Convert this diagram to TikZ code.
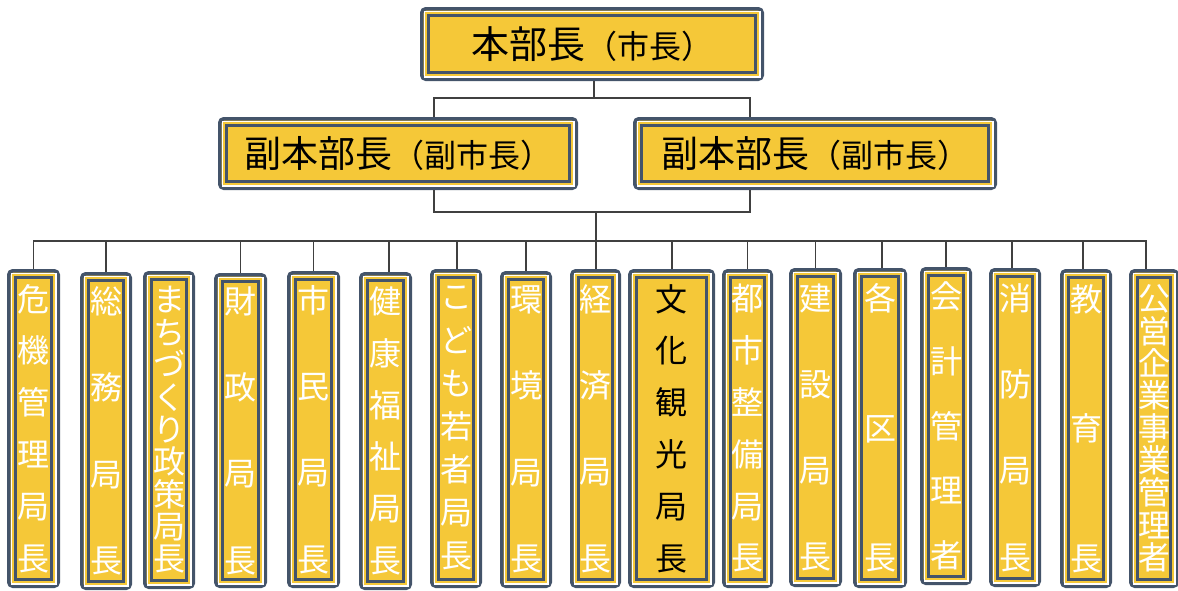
\documentclass[tikz,border=0pt]{standalone}
\usepackage{fontspec}
\newfontfamily\jp{Noto Sans CJK JP}
\definecolor{slate}{HTML}{44546A}
\definecolor{byel}{HTML}{F5C838}
\definecolor{connc}{HTML}{404040}
\tikzset{
 obox/.style={draw=slate, line width=3.5pt, fill=byel, rounded corners=4pt, inner sep=0pt, align=center},
 wline/.style={draw=white, line width=1.2pt},
 iline/.style={draw=slate, line width=3.3pt},
 conn/.style={draw=connc, line width=1.2pt},
 vt/.style={font=\jp\fontsize{32}{#1}\selectfont, text=white},
 ht/.style={font=\jp\fontsize{#1}{40}\selectfont, text=black},
}
\newcommand\smtext[1]{{\fontsize{32}{34}\selectfont #1}}
\begin{document}
\begin{tikzpicture}[x=1pt,y=-1pt]
\useasboundingbox (0,0) rectangle (1178,590);
% top levels
\node[obox, ht=38, minimum width=340.5pt, minimum height=70.5pt] (top) at (592,44) {本部長\smtext{（市長）}};
\node[obox, ht=37, minimum width=356.5pt, minimum height=69.5pt] (v1) at (398,153.5) {副本部長\smtext{（副市長）}};
\node[obox, ht=37, minimum width=360.5pt, minimum height=69.5pt] (v2) at (815,153.5) {副本部長\smtext{（副市長）}};
% bottom level
\node[obox, vt=51.8, minimum width=49.5pt, minimum height=315.5pt] (b1) at (33.5,428.5) {危\\機\\管\\理\\局\\長};
\node[obox, vt=86.33, minimum width=48.5pt, minimum height=314.5pt] (b2) at (106,431) {総\\務\\局\\長};
\node[obox, vt=32.375, minimum width=48.5pt, minimum height=314.5pt] (b3) at (169,430) {ま\\ち\\づ\\く\\り\\政\\策\\局\\長};
\node[obox, vt=86.33, minimum width=49.5pt, minimum height=311.5pt] (b4) at (240.5,430.5) {財\\政\\局\\長};
\node[obox, vt=86.33, minimum width=49.5pt, minimum height=313.5pt] (b5) at (313.5,429.5) {市\\民\\局\\長};
\node[obox, vt=51.8, minimum width=49.5pt, minimum height=314.5pt] (b6) at (385.5,431) {健\\康\\福\\祉\\局\\長};
\node[obox, vt=43.17, minimum width=48.5pt, minimum height=315.5pt] (b7) at (456,428.5) {こ\\ど\\も\\若\\者\\局\\長};
\node[obox, vt=86.33, minimum width=48.5pt, minimum height=313.5pt] (b8) at (526,429.5) {環\\境\\局\\長};
\node[obox, vt=86.33, minimum width=47.5pt, minimum height=315.5pt] (b9) at (595.5,428.5) {経\\済\\局\\長};
\node[obox, vt=51.8, minimum width=83.5pt, minimum height=315.5pt, text=black] (b10) at (671.5,428.5) {文\\化\\観\\光\\局\\長};
\node[obox, vt=51.8, minimum width=47.5pt, minimum height=315.5pt] (b11) at (747.5,428.5) {都\\市\\整\\備\\局\\長};
\node[obox, vt=86.33, minimum width=49.5pt, minimum height=315.5pt] (b12) at (815.5,427.5) {建\\設\\局\\長};
\node[obox, vt=129.5, minimum width=50.5pt, minimum height=316.5pt] (b13) at (880,428) {各\\区\\長};
\node[obox, vt=64.75, minimum width=48.5pt, minimum height=314.5pt] (b14) at (946,426) {会\\計\\管\\理\\者};
\node[obox, vt=86.33, minimum width=48.5pt, minimum height=315.5pt] (b15) at (1015,427.5) {消\\防\\局\\長};
\node[obox, vt=129.5, minimum width=48.5pt, minimum height=315.5pt] (b16) at (1086,428.5) {教\\育\\長};
\node[obox, vt=32.375, minimum width=46.5pt, minimum height=315.5pt] (b17) at (1154,428.5) {公\\営\\企\\業\\事\\業\\管\\理\\者};
% inner frames
\foreach \n in {top,v1,v2,b1,b2,b3,b4,b5,b6,b7,b8,b9,b10,b11,b12,b13,b14,b15,b16,b17}{
  \draw[wline] ([shift={(4.1pt,-4.1pt)}]\n.north west) rectangle ([shift={(-4.1pt,4.1pt)}]\n.south east);
  \draw[iline] ([shift={(8.2pt,-8.2pt)}]\n.north west) rectangle ([shift={(-8.2pt,8.2pt)}]\n.south east);
}
% connectors
\coordinate (j1) at (594,98);
\coordinate (j2) at (596,212);
\coordinate (bus) at (596,241);
\draw[conn] (top.south -| j1) -- (j1);
\draw[conn] ([xshift=36pt]v1.north) |- (j1) -| ([xshift=-65pt]v2.north);
\draw[conn] ([xshift=36pt]v1.south) |- (j2) -| ([xshift=-65pt]v2.south);
\draw[conn] (j2) -- (bus);
\draw[conn] (b1.north) |- (bus) -| ([xshift=-8pt]b17.north);
\foreach \n/\s in {b2/0, b4/0, b5/0, b6/3.5, b7/1, b8/0, b9/0.5, b10/0.5, b11/0, b12/0, b13/2, b14/0, b15/-3, b16/-3}
  \draw[conn] ([xshift=\s pt]\n.north) -- ([xshift=\s pt]\n.north |- bus);
\end{tikzpicture}
\end{document}
